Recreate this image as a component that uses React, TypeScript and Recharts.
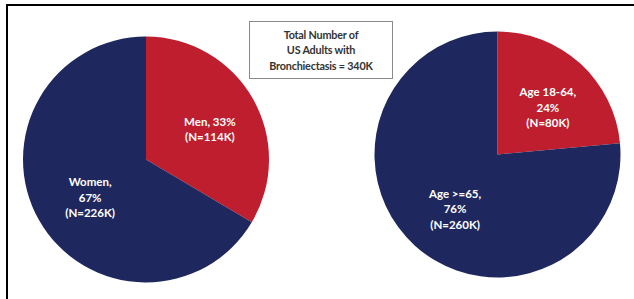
import { PieChart, Pie, Cell } from "recharts"

const sexNames = ["Men", "Women"]
const sexValues = [114, 226]
const sexLabels = [["Men, 33%", "(N=114K)"], ["Women,", "67%", "(N=226K)"]]

const ageNames = ["Age 18-64", "Age >=65"]
const ageValues = [80, 260]
const ageLabels = [["Age 18-64,", "24%", "(N=80K)"], ["Age >=65,", "76%", "(N=260K)"]]

const titleLines = ["Total Number of", "US Adults with", "Bronchiectasis = 340K"]

const colors = ["#BE1E2D", "#1F285E"]
const RAD = Math.PI / 180
const font = "Lato, 'Open Sans', sans-serif"

const sexData = sexNames.map((name, i) => ({ name, value: sexValues[i] }))
const ageData = ageNames.map((name, i) => ({ name, value: ageValues[i] }))

const makeLabel = (lines: string[][]) => (props: any) => {
    const { cx, cy, midAngle, outerRadius, index } = props
    const r = outerRadius * 0.56
    const x = cx + r * Math.cos(-midAngle * RAD) + 4
    const y = cy + r * Math.sin(-midAngle * RAD) + 3
    const rows = lines[index]
    const lh = 15.5
    const y0 = y - ((rows.length - 1) * lh) / 2
    return (
        <text
            x={x}
            y={y0}
            fill="#fff"
            textAnchor="middle"
            dominantBaseline="central"
            style={{ fontFamily: font, fontSize: 11.5, fontWeight: 700 }}
        >
            {rows.map((t, k) => (
                <tspan key={k} x={x} y={y0 + k * lh}>
                    {t}
                </tspan>
            ))}
        </text>
    )
}

export default function App() {
    return (
        <div style={{ position: "fixed", left: 0, top: 0, width: 634, height: 299, background: "#fff", overflow: "hidden" }}>
            <div
                style={{
                    position: "absolute",
                    left: 6,
                    top: 4,
                    width: 700,
                    height: 400,
                    borderTop: "2px solid #000",
                    borderLeft: "2px solid #000",
                }}
            />
            <PieChart width={634} height={299} margin={{ top: 0, right: 0, bottom: 0, left: 0 }} style={{ position: "absolute", left: 0, top: 0 }}>
                <Pie
                    data={sexData}
                    dataKey="value"
                    cx={146}
                    cy={159.5}
                    outerRadius={123}
                    startAngle={90}
                    endAngle={-270}
                    stroke="none"
                    labelLine={false}
                    label={makeLabel(sexLabels)}
                    isAnimationActive={false}
                >
                    {sexData.map((d, i) => (
                        <Cell key={d.name} fill={colors[i]} />
                    ))}
                </Pie>
                <Pie
                    data={ageData}
                    dataKey="value"
                    cx={497.5}
                    cy={154.5}
                    outerRadius={123}
                    startAngle={90}
                    endAngle={-270}
                    stroke="none"
                    labelLine={false}
                    label={makeLabel(ageLabels)}
                    isAnimationActive={false}
                >
                    {ageData.map((d, i) => (
                        <Cell key={d.name} fill={colors[i]} />
                    ))}
                </Pie>
            </PieChart>
            <div
                style={{
                    position: "absolute",
                    left: 249,
                    top: 21,
                    width: 142,
                    height: 56,
                    border: "1px solid #8a8a8a",
                    background: "#fff",
                    display: "flex",
                    flexDirection: "column",
                    justifyContent: "center",
                    alignItems: "center",
                    fontFamily: font,
                    fontSize: 10.8,
                    letterSpacing: -0.2,
                    fontWeight: 700,
                    color: "#333",
                    lineHeight: "15.5px",
                }}
            >
                {titleLines.map((t) => (
                    <div key={t}>{t}</div>
                ))}
            </div>
        </div>
    )
}
